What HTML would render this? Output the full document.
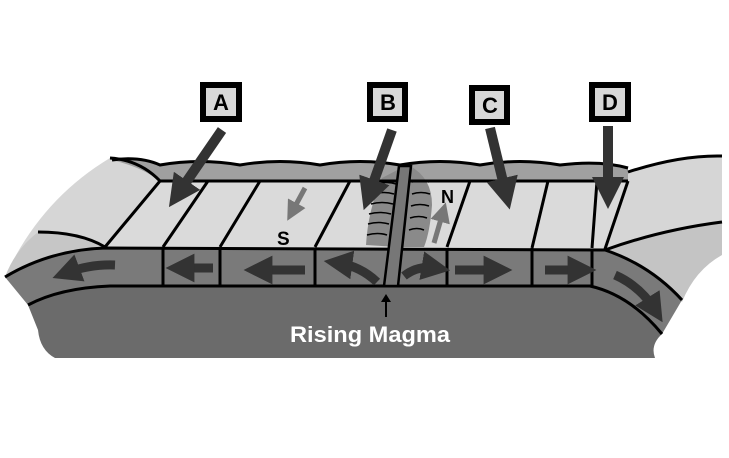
<!DOCTYPE html>
<html><head><style>html,body{margin:0;padding:0;background:#fff;width:729px;height:458px;overflow:hidden}</style></head>
<body>
<svg width="729" height="458" viewBox="0 0 729 458" xmlns="http://www.w3.org/2000/svg" font-family="Liberation Sans, sans-serif">
<defs>
<marker id="ah" markerWidth="3.2" markerHeight="3.2" refX="1.6" refY="1.6" orient="auto" markerUnits="strokeWidth"><path d="M0,0 L3.2,1.6 L0,3.2 z" fill="#333"/></marker>
<marker id="ahg" markerWidth="4" markerHeight="4" refX="2" refY="2" orient="auto" markerUnits="strokeWidth"><path d="M0,0 L4,2 L0,4 z" fill="#777"/></marker>
</defs>
<!-- left outer light region -->
<path d="M110,158 Q140,160 160,180 L105,247 Q50,250 5,277 Q40,200 110,158z" fill="#d6d6d6"/>
<path d="M38,232 Q80,232 105,247 Q50,250 5,277 Q15,250 38,232z" fill="#c6c6c6"/>
<!-- right outer region -->
<path d="M628,172 Q680,155 722,156 L722,222 Q650,232 605,250 z" fill="#d6d6d6"/>
<path d="M605,250 Q660,230 722,222 L722,255 Q695,270 682,302 Q650,265 605,250 z" fill="#c4c4c4"/>
<!-- water strip -->
<path d="M112,160 Q140,158 160,165 Q200,158 240,165 Q280,158 320,165 Q360,158 400,165 Q440,158 480,165 Q520,158 560,165 Q600,160 628,168 L628,182 L160,182 Q145,168 112,160z" fill="#a0a0a0"/>
<!-- seafloor band -->
<path d="M160,181 L628,181 L605,249 L105,247 z" fill="#dadada"/>
<!-- ridge flanks -->
<path d="M382,178 Q368,210 366,245 L398,247 L405,166 z" fill="#8a8a8a"/>
<path d="M410,166 Q432,178 432,205 Q430,232 424,247 L398,247 z" fill="#8a8a8a"/>
<!-- asthenosphere -->
<path d="M28,305 Q60,288 110,286 L590,286 Q630,295 662,334 Q650,345 655,358 L55,358 Q40,350 38,330 z" fill="#6b6b6b"/>
<!-- lithosphere -->
<path d="M5,277 Q50,250 105,248 L605,250 Q650,265 682,300 L662,334 Q630,295 590,286 L110,286 Q60,288 28,305 z" fill="#7a7a7a"/>
<!-- lines -->
<g fill="none" stroke="#000" stroke-width="3">
<path d="M110,158 Q140,160 160,181"/>
<path d="M112,160 Q140,156 160,165 Q200,158 240,165 Q280,158 320,165 Q360,158 400,165 Q440,158 480,165 Q520,158 560,165 Q600,160 628,168"/>
<path d="M160,181 L628,181"/>
<path d="M628,172 Q680,155 722,156"/>
<path d="M628,181 L605,249"/>
<path d="M605,250 Q660,230 722,222"/>
<path d="M38,232 Q80,232 105,247"/>
<path d="M5,277 Q50,250 105,248 L605,250 Q650,265 682,300"/>
<path d="M28,305 Q60,288 110,286 L590,286 Q630,295 662,334"/>
<path d="M160,181 L105,247 M208,181 L163,247 M260,181 L220,247 M350,181 L315,247"/>
<path d="M470,181 L447,247 M548,181 L532,248 M597,181 L592,248"/>
<path d="M163,248 V286 M220,248 V286 M315,248 V286 M447,248 V286 M532,248 V286 M592,250 V286"/>
</g>
<!-- ridge center -->
<path d="M399,166 L411,166 L398,286 L384,286 z" fill="#777" stroke="#000" stroke-width="2.5"/>
<g stroke="#000" stroke-width="1.5" fill="none">
<path d="M378,184 q9,-3 18,0 M374,194 q10,-3 20,0 M371,204 q11,-3 22,0 M369,214 q11,-3 22,0 M368,224 q11,-3 21,0 M367,235 q11,-3 20,0"/>
<path d="M412,182 q9,-3 17,0 M412,194 q9,-3 18,0 M411,206 q9,-3 18,0 M410,218 q9,-3 17,0 M409,230 q8,-3 15,0"/>
</g>
<!-- litho arrows -->
<g stroke="#333" stroke-width="9" fill="none" marker-end="url(#ah)">
<path d="M115,265 Q90,264 66,273"/>
<path d="M213,268 L180,268"/>
<path d="M305,270 L258,270"/>
<path d="M377,282 Q360,266 338,263"/>
<path d="M404,276 Q418,265 436,268"/>
<path d="M455,270 L498,270"/>
<path d="M545,270 L582,270"/>
<path d="M615,275 Q640,286 655,310"/>
</g>
<!-- S and N arrows -->
<g stroke="#777" stroke-width="5" fill="none" marker-end="url(#ahg)">
<path d="M305,188 L292,212"/>
<path d="M434,243 L443,212"/>
</g>
<text x="277" y="245" font-size="19" font-weight="bold">S</text>
<text x="441" y="203" font-size="18" font-weight="bold">N</text>
<!-- label arrows -->
<g stroke="#333" stroke-width="10" fill="none" marker-end="url(#ah)">
<path d="M222,130 L178,194"/>
<path d="M392,130 L369,195"/>
<path d="M490,128 L506,194"/>
<path d="M608,126 L608,193"/>
</g>
<!-- boxes -->
<g stroke="#000" stroke-width="6" fill="#d8d8d8">
<rect x="203" y="85" width="36" height="34"/>
<rect x="370" y="85" width="35" height="34"/>
<rect x="472" y="88" width="35" height="34"/>
<rect x="592" y="85" width="36" height="34"/>
</g>
<g font-size="22" font-weight="bold" text-anchor="middle">
<text x="221" y="110">A</text><text x="388" y="110">B</text><text x="490" y="113">C</text><text x="610" y="110">D</text>
</g>
<!-- magma -->
<path d="M386,317 V300" stroke="#000" stroke-width="2"/><path d="M381,302 L386,294 L391,302z"/>
<text x="370" y="342" font-size="22" font-weight="bold" fill="#fff" text-anchor="middle" textLength="160" lengthAdjust="spacingAndGlyphs">Rising Magma</text>
</svg>
</body></html>
